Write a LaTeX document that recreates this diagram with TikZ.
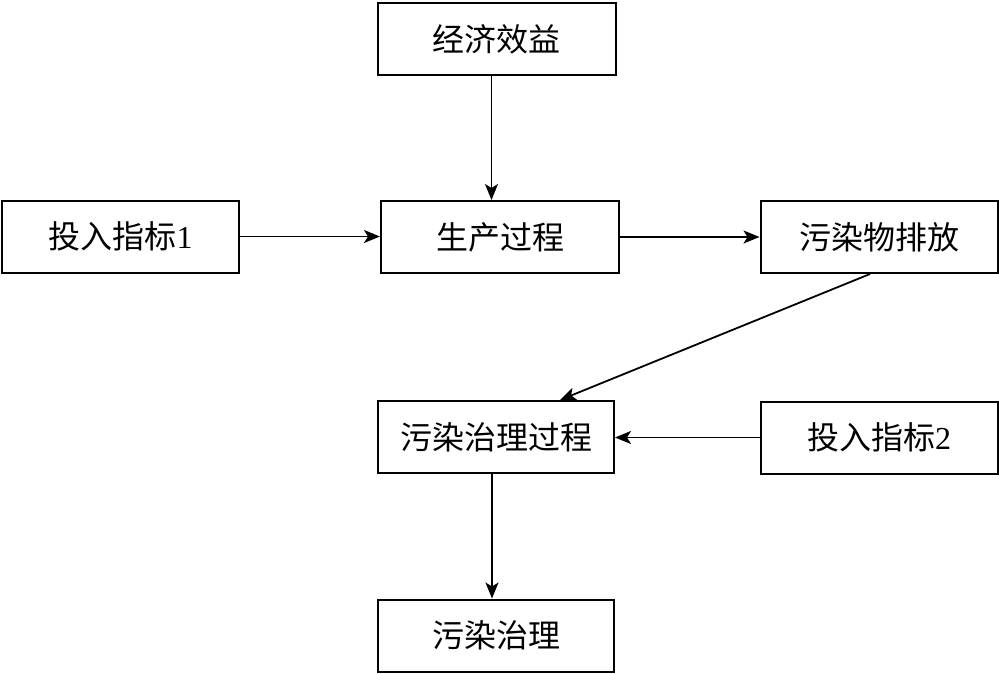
\documentclass[tikz,border=0pt]{standalone}
\usepackage{fontspec}
\setmainfont{Liberation Serif}
\newfontfamily\cjk{Noto Sans CJK SC}
\usetikzlibrary{arrows.meta}
\tikzset{every picture/.append style={font=\fontsize{32}{38}\selectfont}}
\tikzset{
  flowbox/.style={draw,line width=2pt,inner sep=0pt,minimum height=72pt},
  flowarr/.style={line width=1.8pt,-{Stealth[length=16pt,width=13pt,inset=4pt]}}
}

\begin{document}
\begin{tikzpicture}[x=1pt,y=-1pt]
    \useasboundingbox (0,0) rectangle (999,673);
    % middle column
    \node[flowbox,minimum width=238pt] (benefit) at (496.5,39) {\cjk 经济效益};
    \node[flowbox,minimum width=238pt] (prod) at (500,237) {\cjk 生产过程};
    \node[flowbox,minimum width=236pt] (treatproc) at (496,437) {\cjk 污染治理过程};
    \node[flowbox,minimum width=236pt] (treat) at (496,635.5) {\cjk 污染治理};
    % side boxes
    \node[flowbox,minimum width=237pt] (input1) at (120.5,236.5) {{\cjk 投入指标}1};
    \node[flowbox,minimum width=237pt] (emit) at (879,237) {\cjk 污染物排放};
    \node[flowbox,minimum width=237pt] (input2) at (879,437.5) {{\cjk 投入指标}2};
    % arrows
    \draw[flowarr] ([xshift=-5pt]benefit.south) -- ([xshift=-5pt]benefit.south |- prod.north);
    \draw[flowarr] (input1.east) -- (input1.east -| prod.west);
    \draw[flowarr] (prod.east) -- (prod.east -| emit.west);
    \draw[flowarr] ([xshift=-9pt]emit.south) -- ([xshift=64pt]treatproc.north);
    \draw[flowarr] (input2.west) -- (input2.west -| treatproc.east);
    \draw[flowarr] ([xshift=-4pt]treatproc.south) -- ([xshift=-4pt]treatproc.south |- treat.north);
  \end{tikzpicture}
\end{document}
